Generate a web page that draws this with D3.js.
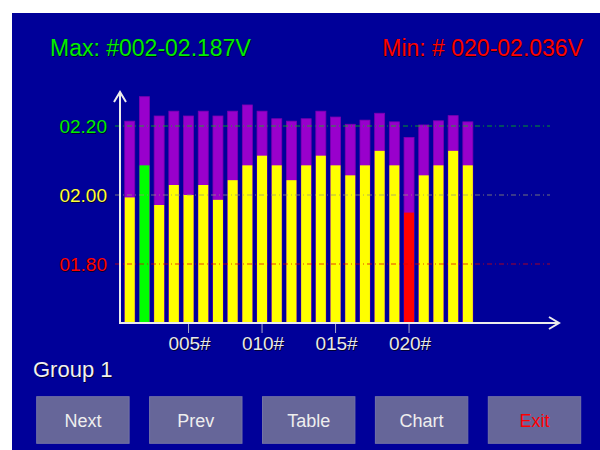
<!DOCTYPE html>
<html lang="en">

<head>
  <meta charset="utf-8" />
  <title>Group Voltage Chart</title>
  <script src="https://d3js.org/d3.v7.min.js"></script>
  <style>
    body {
      margin: 0;
      background: #ffffff;
      font-family: "Liberation Sans", Arial, sans-serif;
    }

    .grid {
      stroke-width: 1px;
      stroke-dasharray: 5 3 1 3;
    }

    .axis-line {
      stroke: #ececec;
      stroke-width: 2px;
      fill: none;
    }
  </style>
</head>

<body>
  <svg width="600" height="450"></svg>

  <script>
    // channel numbers along the x axis
    const channels = [1, 2, 3, 4, 5, 6, 7, 8, 9, 10, 11, 12, 13, 14, 15, 16, 17, 18, 19, 20, 21, 22, 23, 24];
    // measured voltage (front bar)
    const voltages = [1.993, 2.086, 1.971, 2.029, 2.000, 2.029, 1.986, 2.043, 2.086, 2.114, 2.086, 2.043,
      2.086, 2.114, 2.086, 2.057, 2.086, 2.128, 2.086, 1.949, 2.057, 2.086, 2.128, 2.086];
    // upper bar behind (purple)
    const upperValues = [2.214, 2.285, 2.229, 2.243, 2.229, 2.243, 2.229, 2.243, 2.261, 2.243, 2.221, 2.214,
      2.221, 2.243, 2.226, 2.205, 2.217, 2.237, 2.212, 2.167, 2.203, 2.215, 2.230, 2.212];
    const gridValues = [2.2, 2.0, 1.8];
    const gridLabels = ["02.20", "02.00", "01.80"];
    const gridColors = ["#00ee00", "#ffff33", "#ff0000"];
    const gridLineColors = ["#00cc00", "#9a9a70", "#dd0000"];
    const xTicks = [5, 10, 15, 20];
    const xTickLabels = ["005#", "010#", "015#", "020#"];
    const buttons = ["Next", "Prev", "Table", "Chart", "Exit"];
    const maxChannel = 2, minChannel = 20;
    const maxText = "Max: #002-02.187V";
    const minText = "Min: # 020-02.036V";
    const groupText = "Group 1";

    const svg = d3.select("svg");

    // panel background
    svg.append("rect")
      .attr("x", 12).attr("y", 13)
      .attr("width", 588).attr("height", 437)
      .attr("fill", "#000099");

    const axisX = 120, axisY = 323;

    const x = d3.scaleBand()
      .domain(channels)
      .range([122.4, 475.2])
      .paddingInner(0.32)
      .paddingOuter(0.16);

    const y = d3.scaleLinear()
      .domain([1.629, 2.2])
      .range([axisY, 126]);

    // text with a small dark drop shadow
    function shadowText(g, tx, ty, str, color, size, anchor) {
      g.append("text")
        .attr("x", tx + 1).attr("y", ty + 1)
        .attr("font-size", size).attr("text-anchor", anchor || "start")
        .attr("fill", "#000033")
        .text(str);
      g.append("text")
        .attr("x", tx).attr("y", ty)
        .attr("font-size", size).attr("text-anchor", anchor || "start")
        .attr("fill", color)
        .text(str);
    }

    const labels = svg.append("g");
    shadowText(labels, 50, 56, maxText, "#00ee00", 23);
    shadowText(labels, 583, 56, minText, "#ff0000", 23, "end");
    shadowText(labels, 33, 377, groupText, "#f0f0f0", 22);

    // bars
    const barG = svg.append("g");
    barG.selectAll("rect.upper")
      .data(channels)
      .join("rect")
      .attr("class", "upper")
      .attr("x", d => x(d))
      .attr("width", x.bandwidth())
      .attr("y", (d, i) => y(upperValues[i]))
      .attr("height", (d, i) => axisY - y(upperValues[i]))
      .attr("fill", "#9900cc")
      .attr("stroke", "#7a00b0")
      .attr("stroke-width", 0.8);

    barG.selectAll("rect.volt")
      .data(channels)
      .join("rect")
      .attr("class", "volt")
      .attr("x", d => x(d))
      .attr("width", x.bandwidth())
      .attr("y", (d, i) => y(voltages[i]))
      .attr("height", (d, i) => axisY - y(voltages[i]))
      .attr("fill", d => d === maxChannel ? "#00ff00" : d === minChannel ? "#ff0000" : "#ffff00");

    // grid lines drawn over the bars
    const gridG = svg.append("g");
    gridG.selectAll("line")
      .data(gridValues)
      .join("line")
      .attr("class", "grid")
      .attr("x1", 115).attr("x2", 550)
      .attr("y1", d => y(d)).attr("y2", d => y(d))
      .attr("stroke", (d, i) => gridLineColors[i])
      .attr("stroke-opacity", 0.75);

    gridValues.forEach((v, i) => {
      shadowText(gridG, 107, y(v) + 7, gridLabels[i], gridColors[i], 19, "end");
    });

    // axes with arrow heads
    const axG = svg.append("g");
    axG.append("line").attr("class", "axis-line")
      .attr("x1", axisX).attr("y1", axisY).attr("x2", axisX).attr("y2", 92);
    axG.append("path").attr("class", "axis-line")
      .attr("d", `M${axisX - 6},${102} L${axisX},${92} L${axisX + 6},${102}`);
    axG.append("line").attr("class", "axis-line")
      .attr("x1", axisX - 1).attr("y1", axisY).attr("x2", 559).attr("y2", axisY);
    axG.append("path").attr("class", "axis-line")
      .attr("d", `M${549},${axisY - 6} L${559},${axisY} L${549},${axisY + 6}`);

    const tickG = svg.append("g");
    tickG.selectAll("line")
      .data(xTicks)
      .join("line")
      .attr("x1", d => x(d) + x.bandwidth() / 2)
      .attr("x2", d => x(d) + x.bandwidth() / 2)
      .attr("y1", axisY + 1).attr("y2", axisY + 10)
      .attr("stroke", "#aaaacc").attr("stroke-width", 1);
    xTicks.forEach((t, i) => {
      shadowText(tickG, x(t) + x.bandwidth() / 2 + 1, 350, xTickLabels[i], "#e8e8e8", 19, "middle");
    });

    // buttons
    const btn = svg.append("g")
      .selectAll("g")
      .data(buttons)
      .join("g")
      .attr("transform", (d, i) => `translate(${36.7 + i * 112.9},396.7)`);

    btn.append("rect")
      .attr("width", 92.4).attr("height", 46.6)
      .attr("fill", "#666699")
      .attr("stroke", "#7373a6")
      .attr("stroke-width", 1);

    btn.append("text")
      .attr("x", 46.2).attr("y", 30.6)
      .attr("text-anchor", "middle")
      .attr("font-size", 18)
      .attr("fill", d => d === "Exit" ? "#ff0000" : "#eeeeee")
      .text(d => d);
  </script>
</body>

</html>
